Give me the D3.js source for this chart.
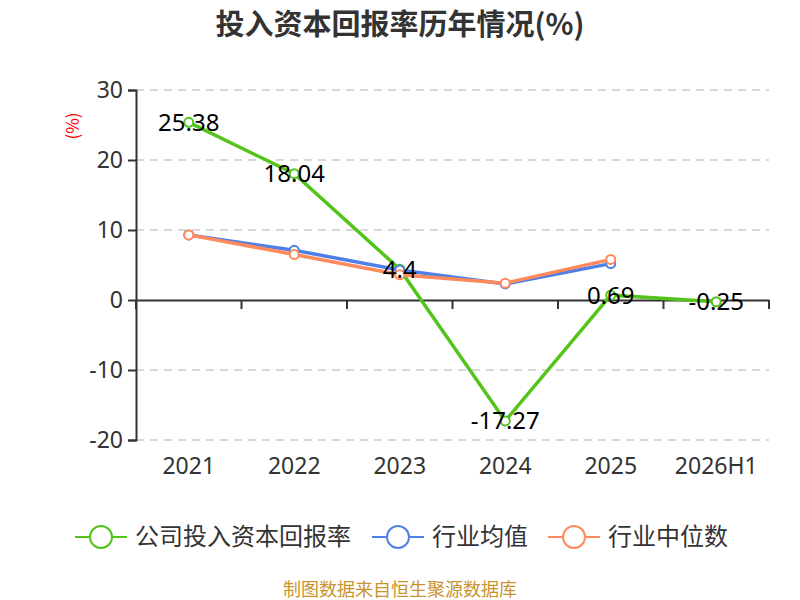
<!DOCTYPE html>
<html>
<head>
<meta charset="utf-8">
<script src="https://cdn.jsdelivr.net/npm/d3@7"></script>
<style>
body { margin: 0; background: #fff; }
text { font-family: "Noto Sans CJK SC", "Noto Sans", sans-serif; }
</style>
</head>
<body>
<svg></svg>
<script>

var categories = ["2021", "2022", "2023", "2024", "2025", "2026H1"];
var company = [25.38, 18.04, 4.4, -17.27, 0.69, -0.25];
var industryAvg = [9.3, 7.1, 4.3, 2.3, 5.2];
var industryMed = [9.3, 6.5, 3.6, 2.4, 5.8];
var yTicks = [-20, -10, 0, 10, 20, 30];
var seriesNames = ["公司投入资本回报率", "行业均值", "行业中位数"];

var width = 800, height = 600;
var colors = ["#52c41a", "#4f80e8", "#ff8b5c"];

var svg = d3.select('svg')
    .attr('width', width)
    .attr('height', height);

svg.append("rect")
    .attr("width", "100%")
    .attr("height", "100%")
    .attr("fill", "white");

var xScale = d3.scaleBand()
    .domain(categories)
    .range([136, 769]);

var yScale = d3.scaleLinear()
    .domain([-20, 30])
    .range([440, 90]);

// title
svg.append("text")
    .attr("x", 400)
    .attr("y", 35)
    .attr("text-anchor", "middle")
    .style("font-size", "29px")
    .style("font-weight", "bold")
    .attr("fill", "#333")
    .text("投入资本回报率历年情况(%)");

// grid
svg.append("g")
    .selectAll("line")
    .data(yTicks.filter(function(d){ return d !== 0; }))
    .enter().append("line")
    .attr("x1", 136)
    .attr("x2", 769)
    .attr("y1", function(d){ return yScale(d); })
    .attr("y2", function(d){ return yScale(d); })
    .style("stroke", "#ccc")
    .style("stroke-width", 1.5)
    .style("stroke-dasharray", "8,6");

// y axis
var y_axis = d3.axisLeft()
    .scale(yScale)
    .tickValues(yTicks)
    .tickFormat(function(d){ return String(d); })
    .tickSize(8)
    .tickPadding(5);

var gy = svg.append("g")
    .attr("transform", "translate(136,0)")
    .call(y_axis);
gy.select(".domain").attr("stroke", "#333").attr("stroke-width", 2);
gy.selectAll(".tick line").attr("stroke", "#333").attr("stroke-width", 2);
gy.selectAll(".tick text")
    .attr("fill", "#333")
    .style("font-size", "23px")
    .style("font-family", "'Noto Sans', sans-serif");

// x axis at zero
var x_axis = d3.axisBottom()
    .scale(xScale)
    .tickSize(0)
    .tickFormat("");

var gx = svg.append("g")
    .attr("transform", "translate(0," + yScale(0) + ")")
    .call(x_axis);
gx.select(".domain").attr("stroke", "#333").attr("stroke-width", 2);

var bounds = categories.map(function(c){ return xScale(c); }).concat([769]);
gx.selectAll(".bound")
    .data(bounds)
    .enter().append("line")
    .attr("x1", function(d){ return d; })
    .attr("x2", function(d){ return d; })
    .attr("y1", 0)
    .attr("y2", 9)
    .attr("stroke", "#333")
    .attr("stroke-width", 2);

// x labels
svg.append("g")
    .selectAll("text")
    .data(categories)
    .enter().append("text")
    .attr("x", function(d){ return xScale(d) + xScale.bandwidth() / 2; })
    .attr("y", 474)
    .attr("text-anchor", "middle")
    .attr("fill", "#333")
    .style("font-size", "23px")
    .style("font-family", "'Noto Sans', sans-serif")
    .text(function(d){ return d; });

// unit label
svg.append("text")
    .attr("transform", "translate(79,126) rotate(-90)")
    .attr("text-anchor", "middle")
    .attr("fill", "red")
    .style("font-size", "17px")
    .text("(%)");

var line = d3.line()
    .x(function(d, i){ return xScale(categories[i]) + xScale.bandwidth() / 2; })
    .y(function(d){ return yScale(d); });

function drawSeries(values, color) {
    svg.append("path")
        .datum(values)
        .attr("d", line)
        .attr("fill", "none")
        .attr("stroke", color)
        .attr("stroke-width", 3.5);
    svg.append("g")
        .selectAll("circle")
        .data(values)
        .enter().append("circle")
        .attr("cx", function(d, i){ return xScale(categories[i]) + xScale.bandwidth() / 2; })
        .attr("cy", function(d){ return yScale(d); })
        .attr("r", 4.5)
        .attr("fill", "white")
        .attr("stroke", color)
        .attr("stroke-width", 2);
}

drawSeries(company, colors[0]);
drawSeries(industryAvg, colors[1]);
drawSeries(industryMed, colors[2]);

// value labels
svg.append("g")
    .selectAll("text")
    .data(company)
    .enter().append("text")
    .attr("x", function(d, i){ return xScale(categories[i]) + xScale.bandwidth() / 2; })
    .attr("y", function(d){ return yScale(d); })
    .attr("dy", "0.35em")
    .attr("text-anchor", "middle")
    .attr("fill", "#000")
    .style("font-size", "24px")
    .style("font-family", "'Noto Sans', sans-serif")
    .text(function(d){ return d; });

// legend
var legendX = [75, 372, 548];
var leg = svg.append("g");
seriesNames.forEach(function(name, i){
    var g = leg.append("g").attr("transform", "translate(" + legendX[i] + ",537)");
    g.append("line")
        .attr("x1", 0).attr("x2", 52)
        .attr("stroke", colors[i]).attr("stroke-width", 2);
    g.append("circle")
        .attr("cx", 26).attr("r", 11)
        .attr("fill", "white")
        .attr("stroke", colors[i]).attr("stroke-width", 2);
    g.append("text")
        .attr("x", 60)
        .attr("dy", "0.35em")
        .attr("fill", "#333")
        .style("font-size", "24px")
        .text(name);
});

// footer
svg.append("text")
    .attr("x", 400)
    .attr("y", 596)
    .attr("text-anchor", "middle")
    .attr("fill", "#c9922e")
    .style("font-size", "18px")
    .text("制图数据来自恒生聚源数据库");

</script>
</body>
</html>
